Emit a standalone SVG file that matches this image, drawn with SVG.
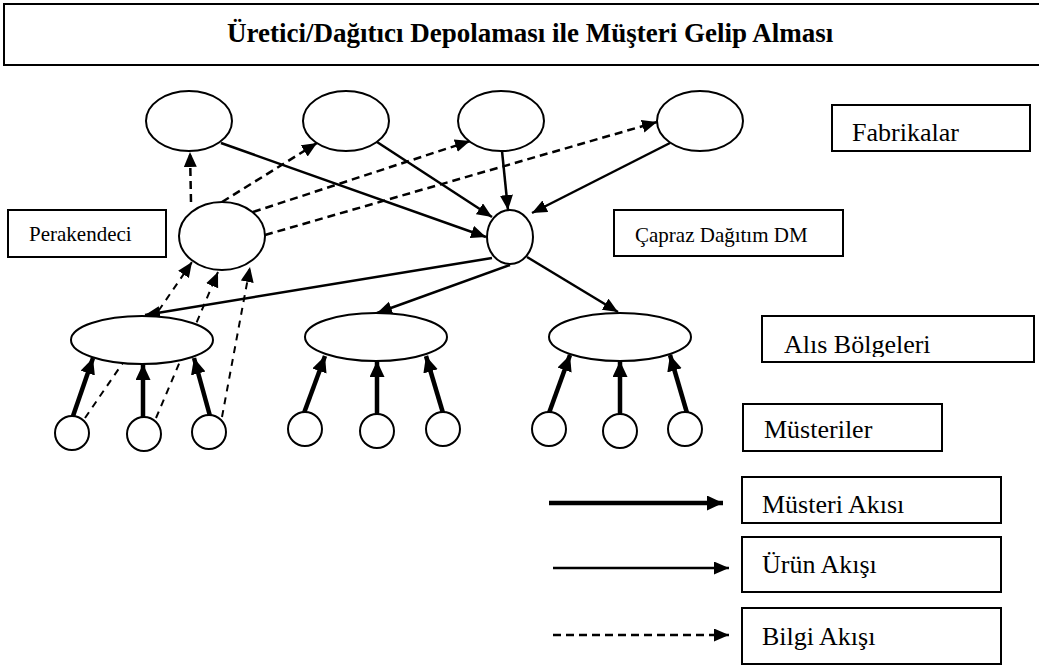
<svg xmlns="http://www.w3.org/2000/svg" width="1039" height="666" viewBox="0 0 1039 666">
  <defs>
    <style>
      .box { fill: #fff; stroke: #000; stroke-width: 2; }
      .node { fill: #fff; stroke: #000; stroke-width: 2; }
      .lbl { font-family: "Liberation Serif", "Times New Roman", serif; fill: #000; font-size: 26px; }
      .lbl-s { font-family: "Liberation Serif", "Times New Roman", serif; fill: #000; font-size: 21px; }
      .title { font-family: "Liberation Serif", "Times New Roman", serif; font-weight: bold; font-size: 27px; fill: #000; }
      .prod { stroke: #000; stroke-width: 2.5; fill: none; marker-end: url(#head); }
      .cust { stroke: #000; stroke-width: 4.5; fill: none; marker-end: url(#headThick); }
      .info { stroke: #000; stroke-width: 2.5; fill: none; stroke-dasharray: 8 5; marker-end: url(#head); }
      .info-thin { stroke: #000; stroke-width: 2; fill: none; stroke-dasharray: 7 6; marker-end: url(#head); }
    </style>
    <marker id="head" markerUnits="userSpaceOnUse" markerWidth="16" markerHeight="14" refX="15" refY="6.5" orient="auto">
      <path d="M0,0 L15,6.5 L0,13 Z" fill="#000"/>
    </marker>
    <marker id="headThick" markerUnits="userSpaceOnUse" markerWidth="17" markerHeight="16" refX="16" refY="7.5" orient="auto">
      <path d="M0,0 L16,7.5 L0,15 Z" fill="#000"/>
    </marker>
    <clipPath id="clipAlis">
      <rect x="762" y="316" width="272" height="41"/>
    </clipPath>
  </defs>

  <rect width="1039" height="666" fill="#fff"/>

  <!-- title banner -->
  <g id="title">
    <rect class="box" x="4" y="4" width="1040" height="61" stroke-width="2.5"/>
    <text class="title" x="227" y="42">Üretici/Dağıtıcı Depolaması ile Müşteri Gelip Alması</text>
  </g>

  <!-- connectors -->
  <g id="connectors">
    <!-- product flow: factories to cross-dock -->
    <line class="prod" x1="221" y1="143" x2="486" y2="237"/>
    <line class="prod" x1="377" y1="142" x2="492" y2="217"/>
    <line class="prod" x1="502" y1="151" x2="508" y2="210"/>
    <line class="prod" x1="670" y1="143" x2="532" y2="213"/>
    <!-- product flow: cross-dock to pickup regions -->
    <line class="prod" x1="492" y1="258" x2="145" y2="315"/>
    <line class="prod" x1="510" y1="265" x2="377" y2="313"/>
    <line class="prod" x1="527" y1="257" x2="618" y2="312"/>

    <!-- information flow: retailer to factories -->
    <line class="info" x1="191" y1="202" x2="190" y2="152"/>
    <line class="info" x1="222" y1="202" x2="317" y2="143"/>
    <line class="info" x1="253" y1="212" x2="470" y2="141"/>
    <line class="info" x1="265" y1="235" x2="657" y2="122"/>
    <!-- information flow: customers to retailer -->
    <line class="info-thin" x1="85" y1="418" x2="192" y2="262"/>
    <line class="info-thin" x1="156" y1="418" x2="218" y2="272"/>
    <line class="info-thin" x1="222" y1="417" x2="250" y2="267"/>

    <!-- customer flow: customers to pickup regions -->
    <line class="cust" x1="73" y1="416" x2="93" y2="358"/>
    <line class="cust" x1="143" y1="418" x2="143" y2="364"/>
    <line class="cust" x1="210" y1="416" x2="194" y2="358"/>
    <line class="cust" x1="304" y1="413" x2="325" y2="356"/>
    <line class="cust" x1="377" y1="415" x2="377" y2="361"/>
    <line class="cust" x1="443" y1="413" x2="426" y2="356"/>
    <line class="cust" x1="549" y1="413" x2="570" y2="355"/>
    <line class="cust" x1="620" y1="415" x2="620" y2="361"/>
    <line class="cust" x1="687" y1="413" x2="670" y2="355"/>

    <!-- legend arrows -->
    <line class="cust" x1="549" y1="503" x2="723" y2="503"/>
    <line class="prod" x1="553" y1="568" x2="729" y2="568"/>
    <line class="info" x1="553" y1="635" x2="729" y2="635" stroke-dasharray="7 6"/>
  </g>

  <!-- factories -->
  <g id="factory-1"><ellipse class="node" cx="189" cy="121" rx="43" ry="30"/></g>
  <g id="factory-2"><ellipse class="node" cx="346" cy="121" rx="43" ry="30"/></g>
  <g id="factory-3"><ellipse class="node" cx="501" cy="121" rx="43" ry="30"/></g>
  <g id="factory-4"><ellipse class="node" cx="700" cy="121" rx="43" ry="30"/></g>

  <!-- retailer -->
  <g id="retailer"><ellipse class="node" cx="222" cy="236" rx="43" ry="34"/></g>

  <!-- cross-dock DC -->
  <g id="cross-dock"><ellipse class="node" cx="510" cy="237" rx="23" ry="27"/></g>

  <!-- pickup regions -->
  <g id="region-1"><ellipse class="node" cx="142" cy="340" rx="71" ry="24"/></g>
  <g id="region-2"><ellipse class="node" cx="376" cy="337" rx="71" ry="24"/></g>
  <g id="region-3"><ellipse class="node" cx="620" cy="337" rx="71" ry="24"/></g>

  <!-- customers -->
  <g id="customer-1"><circle class="node" cx="72" cy="433" r="17"/></g>
  <g id="customer-2"><circle class="node" cx="144" cy="434" r="17"/></g>
  <g id="customer-3"><circle class="node" cx="209" cy="432" r="17"/></g>
  <g id="customer-4"><circle class="node" cx="305" cy="429" r="17"/></g>
  <g id="customer-5"><circle class="node" cx="377" cy="431" r="17"/></g>
  <g id="customer-6"><circle class="node" cx="443" cy="429" r="17"/></g>
  <g id="customer-7"><circle class="node" cx="549" cy="429" r="17"/></g>
  <g id="customer-8"><circle class="node" cx="620" cy="431" r="17"/></g>
  <g id="customer-9"><circle class="node" cx="685" cy="429" r="17"/></g>

  <!-- labels -->
  <g id="label-fabrikalar">
    <rect class="box" x="832" y="105" width="198" height="46"/>
    <text class="lbl" x="852" y="141">Fabrikalar</text>
  </g>
  <g id="label-perakendeci">
    <rect class="box" x="8" y="210" width="158" height="47"/>
    <text class="lbl-s" x="29" y="241">Perakendeci</text>
  </g>
  <g id="label-capraz">
    <rect class="box" x="614" y="210" width="229" height="46"/>
    <text class="lbl-s" x="635" y="242">Çapraz Dağıtım DM</text>
  </g>
  <g id="label-alis">
    <rect class="box" x="762" y="316" width="272" height="46"/>
    <text class="lbl" x="784" y="353" clip-path="url(#clipAlis)">Alıs Bölgeleri</text>
  </g>
  <g id="label-musteriler">
    <rect class="box" x="743" y="404" width="199" height="47"/>
    <text class="lbl" x="764" y="438">Müsteriler</text>
  </g>

  <!-- legend -->
  <g id="legend-musteri">
    <rect class="box" x="742" y="477" width="259" height="46"/>
    <text class="lbl" x="762" y="513">Müsteri Akısı</text>
  </g>
  <g id="legend-urun">
    <rect class="box" x="742" y="537" width="259" height="55"/>
    <text class="lbl" x="762" y="573">Ürün Akışı</text>
  </g>
  <g id="legend-bilgi">
    <rect class="box" x="742" y="608" width="259" height="56"/>
    <text class="lbl" x="762" y="645">Bilgi Akışı</text>
  </g>
</svg>
